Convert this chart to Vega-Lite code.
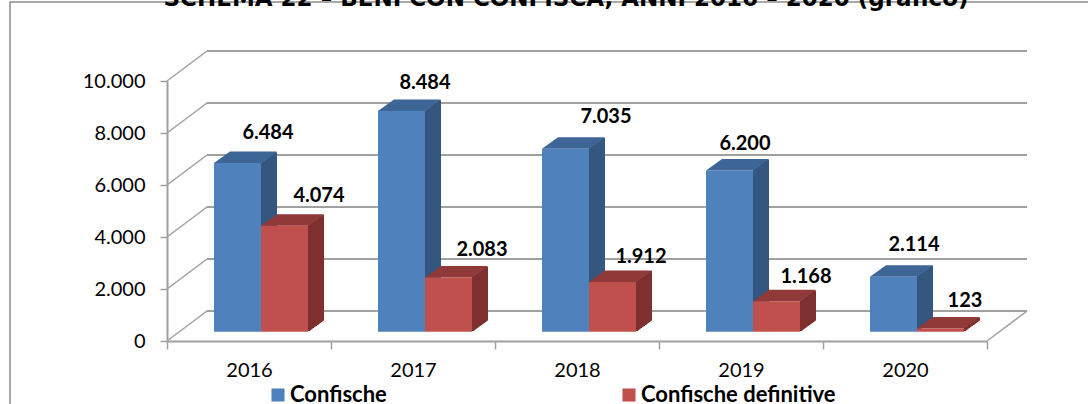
{"$schema":"https://vega.github.io/schema/vega-lite/v6.json","width":1100,"height":420,"autosize":"none","padding":{"left":10,"top":2,"right":0,"bottom":0},"background":"white","view":{"stroke":"#8c8c8c","strokeWidth":1.5},"config":{"locale":{"number":{"decimal":",","thousands":".","grouping":[3],"currency":["","€"]}}},"datasets":{"grid":[{"v":0},{"v":2000},{"v":4000},{"v":6000},{"v":8000},{"v":10000}],"floor":[{"v":0}],"heading":[{"year":2018,"v":10000,"label":"SCHEMA 22 – BENI CON CONFISCA, ANNI 2016 – 2020 (grafico)"}],"main":[{"year":2016,"series":"Confische","value":6484},{"year":2017,"series":"Confische","value":8484},{"year":2018,"series":"Confische","value":7035},{"year":2019,"series":"Confische","value":6200},{"year":2020,"series":"Confische","value":2114},{"year":2016,"series":"Confische definitive","value":4074},{"year":2017,"series":"Confische definitive","value":2083},{"year":2018,"series":"Confische definitive","value":1912},{"year":2019,"series":"Confische definitive","value":1168},{"year":2020,"series":"Confische definitive","value":123}]},"data":{"name":"main"},"layer":[
{"data":{"name":"grid"},"mark":{"type":"rule","stroke":"#a0a0a0","strokeWidth":2,"xOffset":40,"x2Offset":40,"yOffset":-30},"encoding":{"x":{"datum":2015.5,"type":"quantitative","scale":{"domain":[2015.5,2020.5],"range":[157,977],"nice":false,"zero":false,"padding":0},"axis":{"title":null,"orient":"bottom","offset":-81,"grid":false,"values":[2015.5,2016,2016.5,2017,2017.5,2018,2018.5,2019,2019.5,2020,2020.5],"labelExpr":"datum.value%1==0?format(datum.value,'d'):''","tickOpacity":{"condition":{"test":"datum.value%1==0","value":0},"value":1},"tickSize":8,"tickWidth":1.5,"tickColor":"#a0a0a0","domainColor":"#a0a0a0","domainWidth":2,"labelFont":"Lato","labelFontSize":20,"labelColor":"black","labelPadding":11,"labelFlush":false,"labelOverlap":false}},"x2":{"datum":2020.5},"y":{"field":"v","type":"quantitative","scale":{"domain":[0,10000],"range":[339,79],"nice":false},"axis":{"title":null,"orient":"left","offset":-157,"grid":false,"values":[0,2000,4000,6000,8000,10000],"format":",.0f","tickSize":7,"tickWidth":1.5,"tickColor":"#a0a0a0","domainColor":"#a0a0a0","domainWidth":2,"labelFont":"Lato","labelFontSize":20,"labelColor":"black","labelPadding":15}}}},
{"data":{"name":"grid"},"mark":{"type":"point","shape":"M0,0L40,-30","size":4,"filled":false,"stroke":"#a0a0a0","strokeWidth":1.5,"opacity":1},"encoding":{"x":{"datum":2015.5,"type":"quantitative"},"y":{"field":"v","type":"quantitative"}}},
{"data":{"name":"floor"},"mark":{"type":"point","shape":"M0,0L40,-30","size":4,"filled":false,"stroke":"#a0a0a0","strokeWidth":1.5,"opacity":1},"encoding":{"x":{"datum":2020.5,"type":"quantitative"},"y":{"field":"v","type":"quantitative"}}},
{"data":{"name":"heading"},"mark":{"type":"text","font":"DejaVu Sans","fontWeight":"bold","fontSize":23,"color":"black","align":"center","baseline":"alphabetic","xOffset":-11,"yOffset":-75},"encoding":{"x":{"field":"year","type":"quantitative"},"y":{"field":"v","type":"quantitative"},"text":{"field":"label"}}},
{"mark":{"type":"rule","strokeWidth":2,"stroke":{"expr":"datum.series=='Confische'?'#34567f':'#7d302e'"},"xOffset":{"expr":"(datum.series=='Confische'?12:59)+1"},"yOffset":-10,"y2Offset":-10},"encoding":{"x":{"field":"year","type":"quantitative"},"y":{"field":"value","type":"quantitative"},"y2":{"datum":0}}},
{"mark":{"type":"rule","strokeWidth":2,"stroke":{"expr":"datum.series=='Confische'?'#34567f':'#7d302e'"},"xOffset":{"expr":"(datum.series=='Confische'?12:59)+2"},"yOffset":-10.8,"y2Offset":-10.8},"encoding":{"x":{"field":"year","type":"quantitative"},"y":{"field":"value","type":"quantitative"},"y2":{"datum":0}}},
{"mark":{"type":"rule","strokeWidth":2,"stroke":{"expr":"datum.series=='Confische'?'#34567f':'#7d302e'"},"xOffset":{"expr":"(datum.series=='Confische'?12:59)+3"},"yOffset":-11.5,"y2Offset":-11.5},"encoding":{"x":{"field":"year","type":"quantitative"},"y":{"field":"value","type":"quantitative"},"y2":{"datum":0}}},
{"mark":{"type":"rule","strokeWidth":2,"stroke":{"expr":"datum.series=='Confische'?'#34567f':'#7d302e'"},"xOffset":{"expr":"(datum.series=='Confische'?12:59)+4"},"yOffset":-12.2,"y2Offset":-12.2},"encoding":{"x":{"field":"year","type":"quantitative"},"y":{"field":"value","type":"quantitative"},"y2":{"datum":0}}},
{"mark":{"type":"rule","strokeWidth":2,"stroke":{"expr":"datum.series=='Confische'?'#34567f':'#7d302e'"},"xOffset":{"expr":"(datum.series=='Confische'?12:59)+5"},"yOffset":-13,"y2Offset":-13},"encoding":{"x":{"field":"year","type":"quantitative"},"y":{"field":"value","type":"quantitative"},"y2":{"datum":0}}},
{"mark":{"type":"rule","strokeWidth":2,"stroke":{"expr":"datum.series=='Confische'?'#34567f':'#7d302e'"},"xOffset":{"expr":"(datum.series=='Confische'?12:59)+6"},"yOffset":-13.7,"y2Offset":-13.7},"encoding":{"x":{"field":"year","type":"quantitative"},"y":{"field":"value","type":"quantitative"},"y2":{"datum":0}}},
{"mark":{"type":"rule","strokeWidth":2,"stroke":{"expr":"datum.series=='Confische'?'#34567f':'#7d302e'"},"xOffset":{"expr":"(datum.series=='Confische'?12:59)+7"},"yOffset":-14.4,"y2Offset":-14.4},"encoding":{"x":{"field":"year","type":"quantitative"},"y":{"field":"value","type":"quantitative"},"y2":{"datum":0}}},
{"mark":{"type":"rule","strokeWidth":2,"stroke":{"expr":"datum.series=='Confische'?'#34567f':'#7d302e'"},"xOffset":{"expr":"(datum.series=='Confische'?12:59)+8"},"yOffset":-15.1,"y2Offset":-15.1},"encoding":{"x":{"field":"year","type":"quantitative"},"y":{"field":"value","type":"quantitative"},"y2":{"datum":0}}},
{"mark":{"type":"rule","strokeWidth":2,"stroke":{"expr":"datum.series=='Confische'?'#34567f':'#7d302e'"},"xOffset":{"expr":"(datum.series=='Confische'?12:59)+9"},"yOffset":-15.9,"y2Offset":-15.9},"encoding":{"x":{"field":"year","type":"quantitative"},"y":{"field":"value","type":"quantitative"},"y2":{"datum":0}}},
{"mark":{"type":"rule","strokeWidth":2,"stroke":{"expr":"datum.series=='Confische'?'#34567f':'#7d302e'"},"xOffset":{"expr":"(datum.series=='Confische'?12:59)+10"},"yOffset":-16.6,"y2Offset":-16.6},"encoding":{"x":{"field":"year","type":"quantitative"},"y":{"field":"value","type":"quantitative"},"y2":{"datum":0}}},
{"mark":{"type":"rule","strokeWidth":2,"stroke":{"expr":"datum.series=='Confische'?'#34567f':'#7d302e'"},"xOffset":{"expr":"(datum.series=='Confische'?12:59)+11"},"yOffset":-17.3,"y2Offset":-17.3},"encoding":{"x":{"field":"year","type":"quantitative"},"y":{"field":"value","type":"quantitative"},"y2":{"datum":0}}},
{"mark":{"type":"rule","strokeWidth":2,"stroke":{"expr":"datum.series=='Confische'?'#34567f':'#7d302e'"},"xOffset":{"expr":"(datum.series=='Confische'?12:59)+12"},"yOffset":-18,"y2Offset":-18},"encoding":{"x":{"field":"year","type":"quantitative"},"y":{"field":"value","type":"quantitative"},"y2":{"datum":0}}},
{"mark":{"type":"rule","strokeWidth":2,"stroke":{"expr":"datum.series=='Confische'?'#34567f':'#7d302e'"},"xOffset":{"expr":"(datum.series=='Confische'?12:59)+13"},"yOffset":-18.8,"y2Offset":-18.8},"encoding":{"x":{"field":"year","type":"quantitative"},"y":{"field":"value","type":"quantitative"},"y2":{"datum":0}}},
{"mark":{"type":"rule","strokeWidth":2,"stroke":{"expr":"datum.series=='Confische'?'#34567f':'#7d302e'"},"xOffset":{"expr":"(datum.series=='Confische'?12:59)+14"},"yOffset":-19.5,"y2Offset":-19.5},"encoding":{"x":{"field":"year","type":"quantitative"},"y":{"field":"value","type":"quantitative"},"y2":{"datum":0}}},
{"mark":{"type":"rule","strokeWidth":2,"stroke":{"expr":"datum.series=='Confische'?'#34567f':'#7d302e'"},"xOffset":{"expr":"(datum.series=='Confische'?12:59)+15"},"yOffset":-20.2,"y2Offset":-20.2},"encoding":{"x":{"field":"year","type":"quantitative"},"y":{"field":"value","type":"quantitative"},"y2":{"datum":0}}},
{"transform":[{"filter":"datum.series=='Confische'"}],"mark":{"type":"point","shape":"M0,0L47,0L63,-11.5L16,-11.5Z","size":4,"filled":true,"fill":"#3d6595","strokeWidth":0,"opacity":1,"xOffset":-35,"yOffset":-9.3},"encoding":{"x":{"field":"year","type":"quantitative"},"y":{"field":"value","type":"quantitative"}}},
{"transform":[{"filter":"datum.series!='Confische'"}],"mark":{"type":"point","shape":"M0,0L47,0L63,-11.5L16,-11.5Z","size":4,"filled":true,"fill":"#8f3a38","strokeWidth":0,"opacity":1,"xOffset":12,"yOffset":-9.3},"encoding":{"x":{"field":"year","type":"quantitative"},"y":{"field":"value","type":"quantitative"}}},
{"mark":{"type":"bar","size":47,"xOffset":{"expr":"datum.series=='Confische'?-11.5:35.5"},"yOffset":-9.3,"y2Offset":-9.3},"encoding":{"x":{"field":"year","type":"quantitative"},"y":{"field":"value","type":"quantitative","stack":null},"y2":{"datum":0},"fill":{"field":"series","type":"nominal","title":null,"scale":{"domain":["Confische","Confische definitive"],"range":["#4f81bd","#c0504d"]},"legend":{"orient":"none","legendX":257,"legendY":382,"direction":"horizontal","columns":2,"columnPadding":231,"labelOffset":1,"symbolType":"square","symbolSize":170,"symbolStrokeWidth":0,"labelFont":"Lato","labelFontWeight":"bold","labelFontSize":22,"labelColor":"black","labelLimit":300,"gridAlign":"each"}}}},
{"mark":{"type":"text","font":"Lato","fontWeight":"bold","fontSize":20,"color":"black","align":"center","baseline":"middle","xOffset":{"expr":"({'6484':19,'4074':70,'8484':12,'2083':69,'7035':29,'1912':64,'6200':4,'1168':65,'2114':9,'123':60})[datum.value]"},"yOffset":{"expr":"({'6484':-39,'4074':-39,'8484':-37,'2083':-37,'7035':-41,'1912':-34,'6200':-36,'1168':-34,'2114':-41,'123':-37})[datum.value]"}},"encoding":{"x":{"field":"year","type":"quantitative"},"y":{"field":"value","type":"quantitative"},"text":{"field":"value","type":"quantitative","format":","}}}]}
